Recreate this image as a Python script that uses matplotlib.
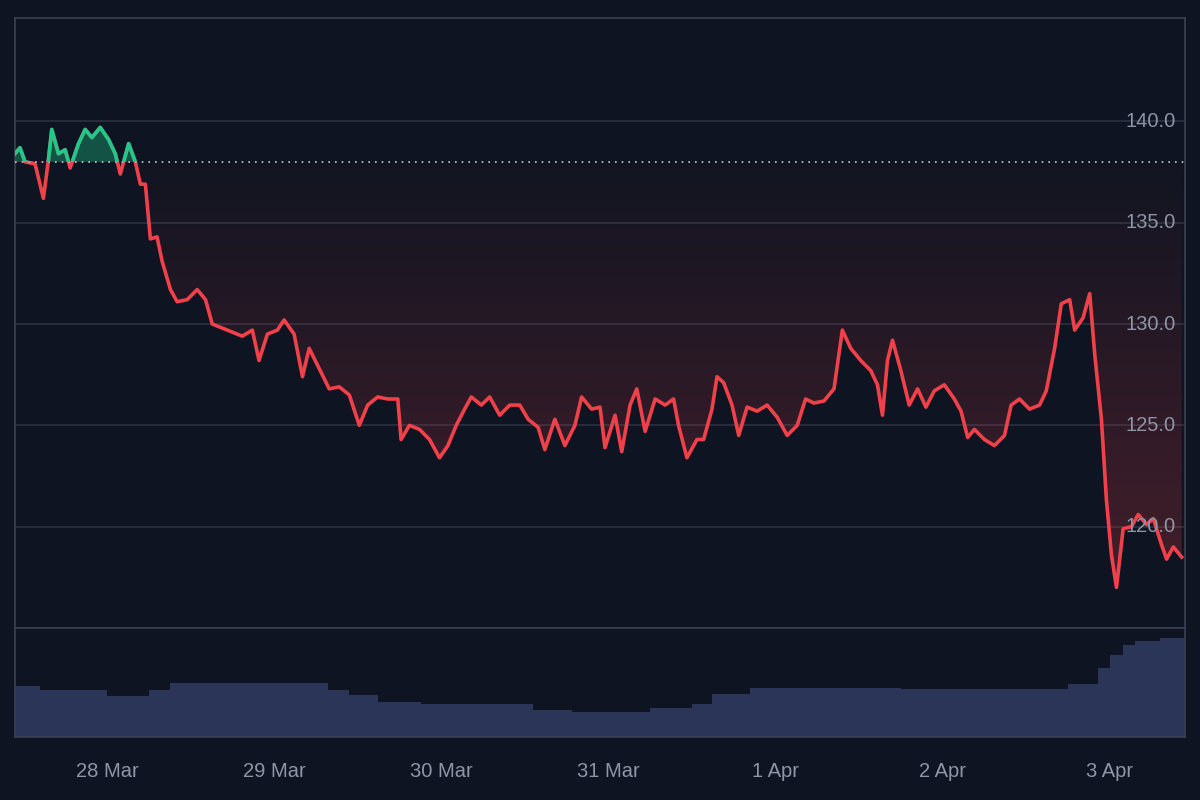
import matplotlib
matplotlib.use("Agg")
import matplotlib.pyplot as plt
from matplotlib.patches import Rectangle, Polygon
from matplotlib.colors import LinearSegmentedColormap
import numpy as np

plt.rcParams["font.family"] = "Liberation Sans"

t_days = [-0.55,-0.52,-0.49,-0.43,-0.38,-0.35,-0.33,-0.29,-0.25,-0.22,-0.17,-0.13,-0.09,-0.04,0.01,0.05,0.08,0.13,0.17,0.20,
0.23,0.26,0.30,0.33,0.38,0.42,0.48,0.54,0.59,0.63,0.69,0.75,0.81,0.87,0.91,0.96,1.02,1.06,1.12,1.17,
1.21,1.27,1.33,1.39,1.45,1.51,1.56,1.62,1.68,1.74,1.76,1.81,1.87,1.93,1.99,2.04,2.09,2.14,2.18,2.24,
2.29,2.35,2.41,2.47,2.52,2.58,2.62,2.68,2.74,2.80,2.84,2.90,2.95,2.98,3.04,3.08,3.13,3.17,3.22,3.28,
3.34,3.39,3.42,3.47,3.53,3.57,3.62,3.65,3.69,3.74,3.78,3.83,3.89,3.95,4.01,4.07,4.13,4.18,4.23,4.29,
4.35,4.40,4.45,4.51,4.57,4.61,4.64,4.67,4.70,4.75,4.80,4.85,4.90,4.95,5.01,5.07,5.11,5.15,5.19,5.25,
5.31,5.37,5.41,5.46,5.52,5.58,5.62,5.67,5.71,5.76,5.79,5.84,5.88,5.91,5.95,5.98,6.01,6.04,6.08,6.13,
6.17,6.22,6.26,6.31,6.34,6.38,6.43]
price = [138.4,138.7,138.0,137.9,136.2,138.1,139.6,138.4,138.6,137.7,138.9,139.6,139.2,139.7,139.1,138.4,137.4,138.9,138.0,136.9,
136.9,134.2,134.3,133.1,131.7,131.1,131.2,131.7,131.2,130.0,129.8,129.6,129.4,129.7,128.2,129.5,129.7,130.2,129.5,127.4,
128.8,127.8,126.8,126.9,126.5,125.0,126.0,126.4,126.3,126.3,124.3,125.0,124.8,124.3,123.4,124.0,125.0,125.8,126.4,126.0,
126.4,125.5,126.0,126.0,125.3,124.9,123.8,125.3,124.0,125.0,126.4,125.8,125.9,123.9,125.5,123.7,126.0,126.8,124.7,126.3,
126.0,126.3,125.0,123.4,124.3,124.3,125.8,127.4,127.1,126.0,124.5,125.9,125.7,126.0,125.4,124.5,125.0,126.3,126.1,126.2,
126.8,129.7,128.8,128.2,127.7,127.0,125.5,128.2,129.2,127.7,126.0,126.8,125.9,126.7,127.0,126.3,125.7,124.4,124.8,124.3,
124.0,124.5,126.0,126.3,125.8,126.0,126.7,128.8,131.0,131.2,129.7,130.3,131.5,128.5,125.3,121.3,118.6,117.0,119.9,120.0,
120.6,120.1,120.4,119.1,118.4,119.0,118.5]
baseline = 138.0

vol_t = [-0.55,-0.40,0.0,0.25,0.38,1.15,1.32,1.45,1.62,1.88,2.55,2.78,3.25,3.50,3.62,3.85,4.75,5.65,5.75,5.93,6.00,6.08,6.15,6.30,6.45]
vol = [51,47,41,47,54,54,47,42,35,33,27,25,29,33,43,49,48,48,53,69,82,92,96,99,102]

tick_days = [0,1,2,3,4,5,6]
tick_labels = ["28 Mar","29 Mar","30 Mar","31 Mar","1 Apr","2 Apr","3 Apr"]
price_ticks = [120.0,125.0,130.0,135.0,140.0]

BG = "#0e1421"; GRID = "#2a3142"; TXT = "#8d95a6"
RED = "#f0414a"; GREEN = "#1fc98a"

fig = plt.figure(figsize=(12,8), dpi=100, facecolor=BG)
ax = fig.add_axes([15/1200, 172/800, 1170/1200, 610/800], facecolor=BG)
axv = fig.add_axes([15/1200, 63/800, 1170/1200, 109/800], facecolor=BG, sharex=ax)

t = np.array(t_days); p = np.array(price)
xmin, xmax = -0.55, 6.45
ymin, ymax = 115.0, 145.1

for v in price_ticks:
    ax.axhline(v, color=GRID, lw=1.2, zorder=1)
    ax.text(0.992, v, f"{v:.1f}", transform=ax.get_yaxis_transform(), ha="right", va="center",
            color=TXT, fontsize=14.5, zorder=5)

verts = np.column_stack([t, np.minimum(p, baseline)])
verts = np.vstack([verts, [[t[-1], baseline], [t[0], baseline]]])
poly = Polygon(verts, closed=True, facecolor="none", edgecolor="none", transform=ax.transData)
ax.add_patch(poly)
cmap = LinearSegmentedColormap.from_list("r", [(0.94, 0.25, 0.29, 0.24), (0.94, 0.25, 0.29, 0.02)])
grad = np.linspace(0, 1, 256).reshape(-1, 1)
im = ax.imshow(grad, extent=[xmin, xmax, p.min(), baseline], origin="lower", cmap=cmap,
               aspect="auto", zorder=2)
im.set_clip_path(poly)

ax.fill_between(t, p, baseline, where=p > baseline, interpolate=True, color=GREEN, alpha=0.35, lw=0, zorder=2)
ax.plot(t, p, color=RED, lw=2.6, zorder=3, solid_joinstyle="round")
g, = ax.plot(t, p, color=GREEN, lw=2.6, zorder=4, solid_joinstyle="round")
clip = Rectangle((xmin, baseline), xmax - xmin, ymax - baseline, transform=ax.transData)
g.set_clip_path(clip)
ax.axhline(baseline, color="#c8ccd4", lw=1.2, ls=(0, (1, 3)), zorder=3)
ax.set_xlim(xmin, xmax); ax.set_ylim(ymin, ymax)

axv.set_ylim(0, 109)
axv.fill_between(vol_t, vol, 0, step="post", color="#2b3558", lw=0)
axv.set_xticks(tick_days)
axv.set_xticklabels(tick_labels, color=TXT, fontsize=14.5)
axv.tick_params(axis="x", length=0, pad=18)
axv.set_yticks([])
axv.set_xlim(xmin, xmax)
ax.tick_params(axis="both", length=0, labelbottom=False, labelleft=False)
ax.set_yticks([])

for a in (ax, axv):
    for s in a.spines.values():
        s.set_color("#3a4152"); s.set_linewidth(1.2)
ax.spines["bottom"].set_color(GRID)

fig.savefig("out.png", dpi=100, facecolor=BG)
